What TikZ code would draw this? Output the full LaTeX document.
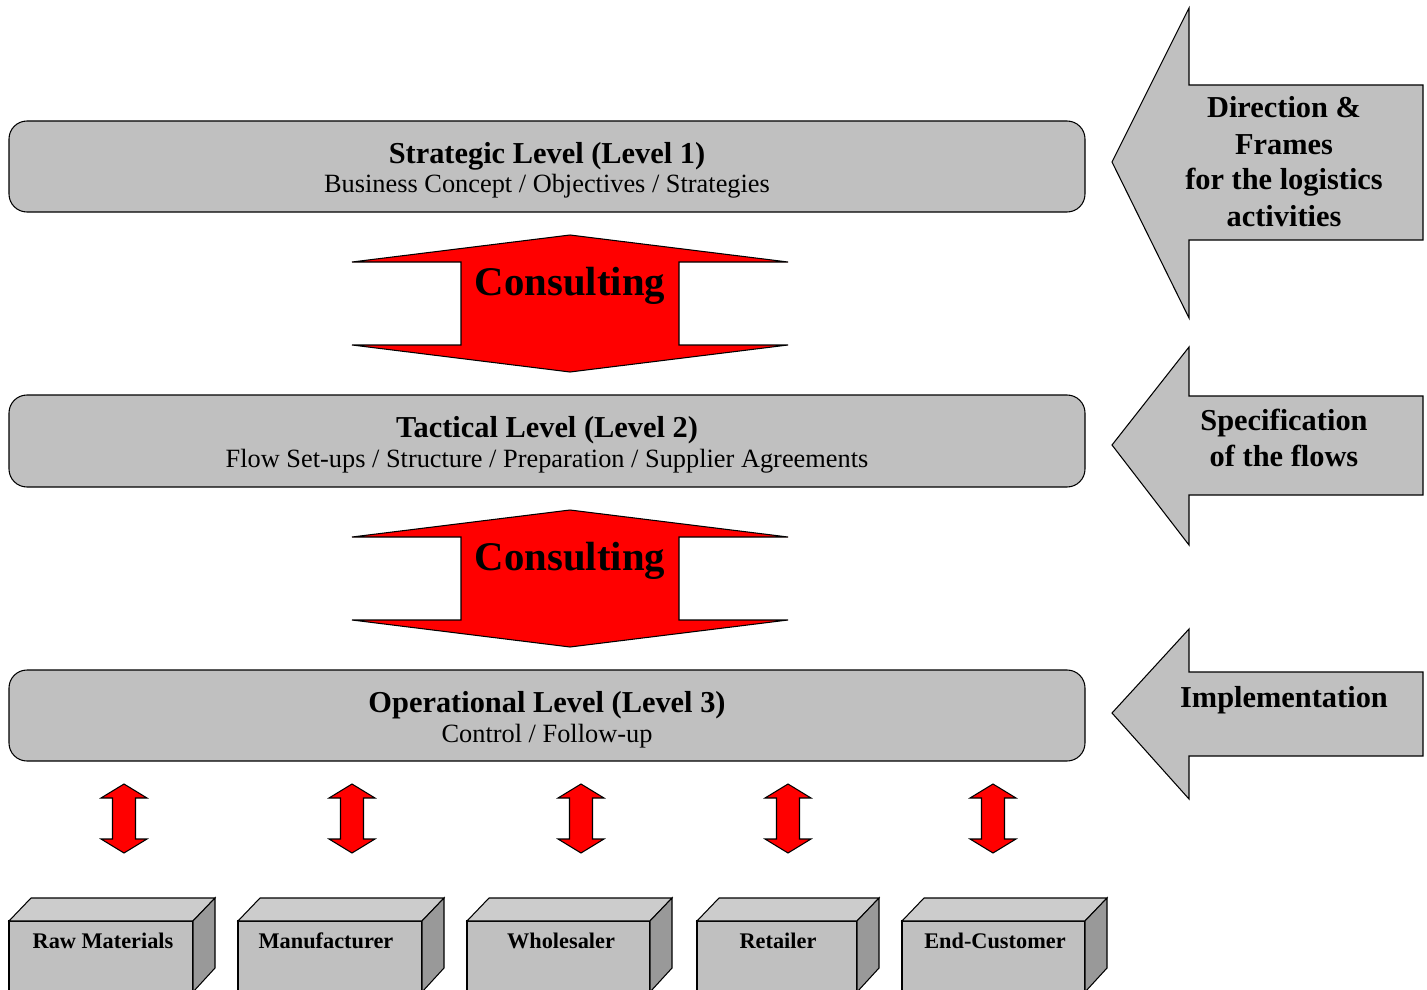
\documentclass[tikz,border=0pt]{standalone}
\usepackage{fontspec}
\setmainfont{Liberation Serif}
\definecolor{PanelGray}{HTML}{C0C0C0}
\definecolor{TopGray}{HTML}{CCCCCC}
\definecolor{SideGray}{HTML}{999999}
\definecolor{FlowRed}{HTML}{FF0000}
\newcommand{\lvltitle}{\fontsize{17.3}{20}\selectfont\bfseries}
\newcommand{\lvlsub}{\fontsize{15}{18}\selectfont}
\newcommand{\consultfont}{\fontsize{23.2}{26}\selectfont\bfseries}
\newcommand{\sidefont}{\fontsize{17.3}{20}\selectfont\bfseries}
\newcommand{\boxfont}{\fontsize{12.7}{15}\selectfont\bfseries}

\begin{document}
\begin{tikzpicture}[x=0.02cm, y=-0.02cm,
  levelbox/.style={draw=black, fill=PanelGray, line width=0.6pt, rounded corners=0.36cm},
  grayarrow/.style={draw=black, fill=PanelGray, line width=0.6pt},
  redarrow/.style={draw=black, fill=FlowRed, line width=0.6pt, line join=miter},
  cubeline/.style={draw=black, line width=0.6pt},
  lvltext/.style={anchor=base, inner sep=0pt}]
  \useasboundingbox (0,0) rectangle (1427,990);
  \clip (0,0) rectangle (1427,990);

  % Level panels
  \draw[levelbox] (9,121) rectangle (1085,212);
  \draw[levelbox] (9,395) rectangle (1085,487);
  \draw[levelbox] (9,670) rectangle (1085,761);
  \node[lvltext, font=\lvltitle] (strat) at (547,163) {Strategic Level (Level 1)};
  \node[lvltext, font=\lvlsub] (stratsub) at (547,193) {Business Concept / Objectives / Strategies};
  \node[lvltext, font=\lvltitle] (tact) at (547,437) {Tactical Level (Level 2)};
  \node[lvltext, font=\lvlsub] (tactsub) at (547,467) {Flow Set-ups / Structure / Preparation / Supplier Agreements};
  \node[lvltext, font=\lvltitle] (oper) at (547,712) {Operational Level (Level 3)};
  \node[lvltext, font=\lvlsub] (opersub) at (547,742) {Control / Follow-up};

  % Consulting arrows between the levels
  \foreach \t [count=\i] in {235,510} {
    \draw[redarrow] (570,\t) -- (788,\t+27) -- (679,\t+27) -- (679,\t+110)
      -- (788,\t+110) -- (570,\t+137) -- (352,\t+110) -- (461,\t+110)
      -- (461,\t+27) -- (352,\t+27) -- cycle;
    \node[lvltext, font=\consultfont] (consult\i) at (570,\t+60) {Consulting};
  }

  % Gray arrows on the right
  \draw[grayarrow] (1112,162) -- (1189,8) -- (1189,85) -- (1423,85) -- (1423,240)
    -- (1189,240) -- (1189,318) -- cycle;
  \draw[grayarrow] (1112,445) -- (1189,347) -- (1189,396) -- (1423,396) -- (1423,495)
    -- (1189,495) -- (1189,545) -- cycle;
  \draw[grayarrow] (1112,713) -- (1189,629) -- (1189,672) -- (1423,672) -- (1423,756)
    -- (1189,756) -- (1189,799) -- cycle;
  \foreach \txt [count=\i] in {Direction \&, Frames, for the logistics, activities}
    \node[lvltext, font=\sidefont] (direct\i) at (1284,82+36*\i) {\txt};
  \foreach \txt [count=\i] in {Specification, of the flows}
    \node[lvltext, font=\sidefont] (spec\i) at (1284,394+36*\i) {\txt};
  \node[lvltext, font=\sidefont] (impl) at (1284,707) {Implementation};

  % Small double arrows to the partners
  \foreach \c in {124,352,581,788,993}
    \draw[redarrow] (\c,784) -- (\c+23,798) -- (\c+11.5,798) -- (\c+11.5,839)
      -- (\c+23,839) -- (\c,853) -- (\c-23,839) -- (\c-11.5,839)
      -- (\c-11.5,798) -- (\c-23,798) -- cycle;

  % Supply chain partners
  \foreach \l/\r/\m/\txt [count=\i] in {9/193/103/Raw Materials, 238/422/326/Manufacturer,
      467/650/561/Wholesaler, 697/857/778/Retailer, 902/1085/995/End-Customer} {
    \draw[cubeline, fill=PanelGray] (\l,921) rectangle (\r,992);
    \draw[cubeline, fill=TopGray] (\l,921) -- (\l+22,898) -- (\r+22,898) -- (\r,921) -- cycle;
    \draw[cubeline, fill=SideGray] (\r,921) -- (\r+22,898) -- (\r+22,968) -- (\r,992) -- cycle;
    \node[lvltext, font=\boxfont] (partner\i) at (\m,948) {\txt};
  }
\end{tikzpicture}
\end{document}
